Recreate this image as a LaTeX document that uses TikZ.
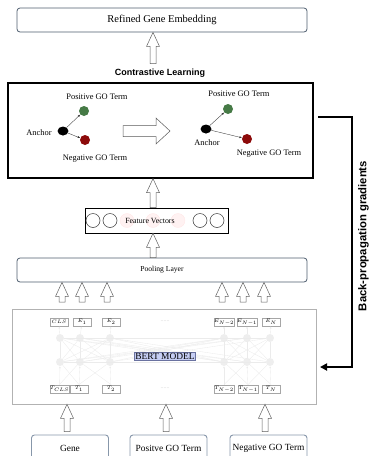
\documentclass[tikz,border=0pt]{standalone}
\usepackage{fontspec}
\setmainfont{Liberation Serif}
\setsansfont{Liberation Sans}
\usetikzlibrary{calc,arrows.meta,shapes.geometric}

\definecolor{slate}{HTML}{4E5D6E}
\definecolor{inslate}{HTML}{8797AA}
\definecolor{posgreen}{HTML}{467A46}
\definecolor{negred}{HTML}{8C0A0A}
\definecolor{bertfill}{HTML}{C6CEF4}
\definecolor{bertline}{HTML}{6A72A0}

% hollow block arrow pointing up, from #1 (tail) to #2 (tip)
\newcommand\blockup[2]{%
  \path[draw=gray!75!black,fill=white,line width=0.5pt]
    let \p1=#1, \p2=#2 in
    (\x1-3pt,\y1) -- (\x1-3pt,\y2-14pt) -- (\x1-6.5pt,\y2-14pt) -- (\x1,\y2)
    -- (\x1+6.5pt,\y2-14pt) -- (\x1+3pt,\y2-14pt) -- (\x1+3pt,\y1) -- cycle;}

\begin{document}
\begin{tikzpicture}[x=1pt,y=-1pt,
  rbox/.style={draw=slate,line width=0.8pt,rounded corners=3pt,fill=white,
    inner sep=0pt,minimum width=290pt,minimum height=24pt},
  inbox/.style={draw=inslate,line width=0.9pt,rounded corners=3pt,fill=white,
    inner sep=0pt,minimum width=77pt,minimum height=30pt,font=\fontsize{9.4}{10}\selectfont},
  tok/.style={draw=gray!70,line width=0.4pt,inner sep=0pt,minimum width=18pt,
    minimum height=8.5pt,font=\fontsize{4.6}{5}\selectfont},
  hid/.style={circle,fill=gray!13,inner sep=0pt,minimum size=8pt},
  faint/.style={draw=gray!16,line width=0.35pt},
  lbl/.style={font=\fontsize{8.4}{9}\selectfont,inner sep=0pt},
  dot/.style={circle,inner sep=0pt},
  thinarrow/.style={draw=gray!40!black,line width=0.35pt,-{Latex[length=2.5pt,width=2pt]}},
  boldsans/.style={font=\sffamily\bfseries}]
\useasboundingbox (0,0) rectangle (370,456);

% --- top stack ---
\node[rbox,font=\fontsize{10.5}{12}\selectfont] (refined) at (162,20) {Refined Gene Embedding};
\node[boldsans,font=\sffamily\bfseries\fontsize{9}{10}\selectfont,inner sep=0pt] (cltitle) at (160,73) {Contrastive Learning};
\node[draw=black,line width=1.3pt,minimum width=305pt,minimum height=95pt,inner sep=0pt] (clbox) at (160.5,130.5) {};
\node[draw=black,line width=0.6pt,minimum width=143pt,minimum height=25pt,inner sep=0pt] (feat) at (156.5,220.5) {};
\node[rbox,font=\fontsize{7.6}{9}\selectfont] (pool) at (162,270) {Pooling Layer};

\coordinate (spine) at (153,0);
\blockup{($(spine |- cltitle.north)+(0,-5)$)}{(spine |- refined.south)}
\blockup{(spine |- feat.north)}{(spine |- clbox.south)}
\blockup{(spine |- pool.north)}{(spine |- feat.south)}

% --- feature vectors ---
\foreach \cx/\nm in {127/fa,153/fb,178/fc}
  \node[dot,fill=red!5,draw=red!10,line width=0.3pt,minimum size=14pt] (\nm) at (\cx,220.5) {};
\foreach \cx/\nm in {93/fv1,110/fv2,200/fv3,217/fv4}
  \node[dot,draw=black!80,line width=0.5pt,minimum size=14pt] (\nm) at (\cx,220.5) {};
\node[font=\fontsize{7.9}{9}\selectfont,inner sep=0pt] (ftext) at (150,220.5) {Feature Vectors};

% --- contrastive learning, before ---
\node[lbl] (lpt) at (97,97) {Positive GO Term};
\node[dot,fill=posgreen,minimum size=10pt] (lpos) at (84,111) {};
\node[ellipse,fill=black,inner sep=0pt,minimum width=11pt,minimum height=9pt] (lanc) at (63,131) {};
\node[lbl] (lat) at (39,133) {Anchor};
\node[dot,fill=negred,minimum size=10pt] (lneg) at (85,140) {};
\node[lbl] (lnt) at (95,159) {Negative GO Term};
\draw[thinarrow] (lanc) -- (lpos);
\draw[thinarrow] (lanc) -- (lneg);

% big hollow arrow
\coordinate (bh) at (123,131);
\coordinate (bt) at (170,131);
\path[draw=gray!70!black,fill=white,line width=0.5pt]
  let \p1=(bh), \p2=(bt) in
  (\x1,\y1+5.5pt) -- (\x2-14pt,\y1+5.5pt) -- (\x2-14pt,\y1+13pt) -- (\x2,\y1)
  -- (\x2-14pt,\y1-13pt) -- (\x2-14pt,\y1-5.5pt) -- (\x1,\y1-5.5pt) -- cycle;

% --- contrastive learning, after ---
\node[lbl] (rpt) at (239,94) {Positive GO Term};
\node[dot,fill=posgreen,minimum size=10pt] (rpos) at (228,109) {};
\node[ellipse,fill=black,inner sep=0pt,minimum width=11pt,minimum height=9pt] (ranc) at (206,129) {};
\node[lbl] (rat) at (207,143) {Anchor};
\node[dot,fill=negred,minimum size=10pt] (rneg) at (247,139) {};
\node[lbl] (rnt) at (269,154) {Negative GO Term};
\draw[thinarrow] (ranc) -- (rpos);
\draw[thinarrow] (ranc) -- (rneg);

% --- BERT block ---
\node[draw=gray!60,line width=0.6pt,minimum width=304pt,minimum height=95pt,inner sep=0pt] (bert) at (164,356.5) {};

% hidden units
\foreach \cx [count=\i] in {60,80,110,224,247,270}{
  \node[hid] (ha\i) at (\cx,338) {};
  \node[hid] (hb\i) at (\cx,362) {};
}
% faint wiring
\foreach \i in {1,2,3}{\foreach \j in {1,2,3}{
  \draw[faint] (hb\i) -- (ha\j);}}
\foreach \i in {4,5,6}{\foreach \j in {4,5,6}{
  \draw[faint] (hb\i) -- (ha\j);}}
\foreach \i/\j in {1/4,2/5,3/6,3/4,1/5,2/4}{
  \draw[faint] (ha\i) -- (hb\j);
  \draw[faint] (hb\i) -- (ha\j);}
\foreach \i/\j in {3/4,2/6,1/6}{
  \draw[faint] (ha\i) -- (ha\j);
  \draw[faint] (hb\i) -- (hb\j);}

% token boxes
\node[tok,fill=white] (tcls) at (59,322) {$CLS$};
\node[tok,fill=white] (te1) at (82,322) {$E_1$};
\node[tok,fill=white] (te2) at (111,322) {$E_2$};
\node[tok,fill=white] (ten2) at (224,322) {$E_{N-2}$};
\node[tok,fill=white] (ten1) at (247,322) {$E_{N-1}$};
\node[tok,fill=white] (ten) at (271,322) {$E_N$};
\node[tok,fill=white] (bcls) at (59.5,389) {$T_{CLS}$};
\node[tok,fill=white] (bt1) at (79,389) {$T_1$};
\node[tok,fill=white] (bt2) at (111,389) {$T_2$};
\node[tok,fill=white] (btn2) at (224,389) {$T_{N-2}$};
\node[tok,fill=white] (btn1) at (248,389) {$T_{N-1}$};
\node[tok,fill=white] (btn) at (271,389) {$T_N$};
\node[font=\fontsize{6}{6}\selectfont,text=gray!40,inner sep=0pt] (dtop) at (165,321) {......};
\node[font=\fontsize{6}{6}\selectfont,text=gray!40,inner sep=0pt] (dbot) at (165,388) {......};

\foreach \t/\h in {tcls/1,te1/2,te2/3,ten2/4,ten1/5,ten/6}
  \draw[faint,-{Latex[length=2pt,width=2pt]}] (ha\h) -- (\t);
\foreach \t/\h in {bcls/1,bt1/2,bt2/3,btn2/4,btn1/5,btn/6}
  \draw[faint,-{Latex[length=2pt,width=2pt]}] (\t) -- (hb\h);
\foreach \t/\h in {bcls/2,bt1/1,bt1/3,bt2/2,btn2/5,btn1/4,btn1/6,btn/5}
  \draw[faint] (\t.north) -- (hb\h);

\node[draw=bertline,fill=bertfill,line width=0.4pt,inner sep=1pt,
  font=\fontsize{9.4}{10}\selectfont] (bertlbl) at (165,356) {BERT MODEL};

% arrows from BERT into pooling
\foreach \cx [count=\i] in {62,82,107,222,243,264}{
  \coordinate (u\i) at (\cx,302);
  \blockup{(u\i)}{(u\i |- pool.south)}
}

% --- inputs ---
\node[inbox] (gene) at (70,450) {};
\node[inbox] (posin) at (168.5,450) {};
\node[inbox] (negin) at (268.5,450) {};
\node[font=\fontsize{9.4}{10}\selectfont,inner sep=0pt] (genet) at (70,448) {Gene};
\node[font=\fontsize{9.4}{10}\selectfont,inner sep=0pt] (post) at (168.5,448) {Positve GO Term};
\node[font=\fontsize{9.4}{10}\selectfont,inner sep=0pt] (negt) at (268.5,448) {Negative GO Term};
\foreach \nd/\dx in {gene/-3,posin/-2.5,negin/-3.5}{
  \coordinate (tail-\nd) at ($(\nd.north)+(\dx,-3)$);
  \coordinate (tip-\nd) at ($(\nd.north |- bert.south)+(\dx,0)$);
  \blockup{(tail-\nd)}{(tip-\nd)}
}

% --- back-propagation loop ---
\coordinate (bpS) at (318,117);
\coordinate (bpD) at (352,367);
\coordinate (bpE) at (320,367);
\draw[line width=2.2pt,-{Triangle[length=7pt,width=7pt]}] (bpS) -| (bpD) -- (bpE);
\node[rotate=90,font=\sffamily\bfseries\fontsize{11.3}{12}\selectfont,inner sep=0pt] (bplbl) at (363.5,236) {Back-propagation gradients};
\end{tikzpicture}
\end{document}
